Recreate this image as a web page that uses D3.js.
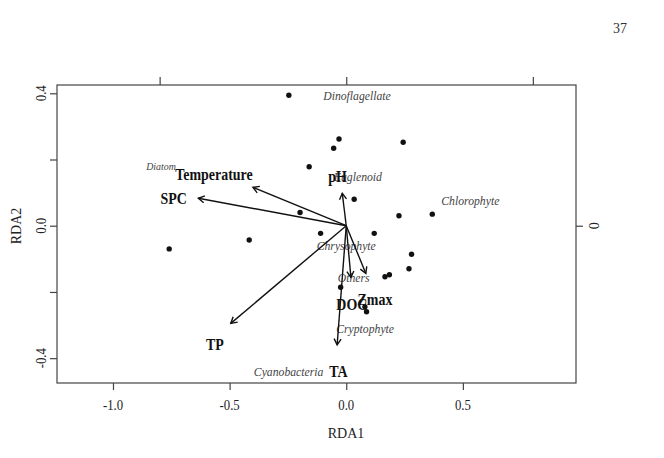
<!DOCTYPE html>
<html>
<head>
<meta charset="utf-8">
<script src="https://cdn.jsdelivr.net/npm/d3@7"></script>
<style>
  body { margin: 0; background: #fff; }
  svg text { font-family: "Liberation Serif", "DejaVu Serif", serif; }
</style>
</head>
<body>
<div id="chart"></div>
<script>

// site scores (RDA1, RDA2)
var siteX = [-0.246, -0.031, -0.054, 0.244, -0.159, 0.034, -0.198, 0.226, 0.369, -0.110,
  0.120, -0.759, -0.416, 0.280, 0.269, 0.166, 0.185, -0.024, 0.080, 0.087]
var siteY = [0.394, 0.262, 0.234, 0.252, 0.178, 0.080, 0.040, 0.030, 0.035, -0.023,
  -0.023, -0.070, -0.043, -0.086, -0.130, -0.154, -0.148, -0.186, -0.245, -0.260]

// environmental vectors: arrow tips and where the labels sit
var envNames = ["Temperature", "SPC", "pH", "TP", "DOC", "Zmax", "TA"]
var envX = [-0.400, -0.634, -0.017, -0.495, 0.020, 0.084, -0.039]
var envY = [0.116, 0.083, 0.098, -0.295, -0.156, -0.144, -0.360]
var envLabelX = [-0.567, -0.740, -0.037, -0.563, 0.024, 0.123, -0.034]
var envLabelY = [0.150, 0.076, 0.143, -0.363, -0.243, -0.227, -0.444]

// species scores (text only)
var sppNames = ["Dinoflagellate", "Diatom", "Euglenoid", "Chlorophyte", "Chrysophyte",
  "Others", "Cryptophyte", "Cyanobacteria"]
var sppX = [0.046, -0.794, 0.050, 0.532, 0.000, 0.032, 0.081, -0.247]
var sppY = [0.390, 0.177, 0.143, 0.073, -0.063, -0.161, -0.315, -0.446]

var xTicks = [-1.0, -0.5, 0.0, 0.5]
var yTicks = [-0.4, -0.2, 0.0, 0.2, 0.4]
var yLabels = [-0.4, 0.0, 0.4]
var topTicks = [-1, 0, 1]
var rightTicks = [-1, 0, 1]


var W = 664, H = 458
var pL = 57, pR = 576, pT = 85, pB = 383

var svg = d3.select("#chart").append("svg")
  .attr("width", W)
  .attr("height", H)

var x = d3.scaleLinear().domain([-1.24, 0.985]).range([pL, pR])
var y = d3.scaleLinear().domain([0.425, -0.475]).range([pT, pB])
// species axes (top / right) use a stretched scale
var x2 = d3.scaleLinear().domain([-1.24 / 0.8, 0.985 / 0.8]).range([pL, pR])
var y2 = d3.scaleLinear().domain([0.425 / 0.8, -0.475 / 0.8]).range([pT, pB])

var axisColor = "#444"

// box
svg.append("rect")
  .attr("x", pL).attr("y", pT)
  .attr("width", pR - pL).attr("height", pB - pT)
  .attr("fill", "none")
  .attr("stroke", axisColor)
  .attr("stroke-width", 1.2)

var styleAxis = function (g) {
  g.select(".domain").remove()
  g.selectAll(".tick line").attr("stroke", axisColor).attr("stroke-width", 1.2)
  g.selectAll(".tick text").remove()
}

svg.append("g")
  .attr("transform", `translate(0,${pB})`)
  .call(d3.axisBottom(x).tickValues(xTicks).tickSize(7))
  .call(styleAxis)

svg.append("g")
  .attr("transform", `translate(${pL},0)`)
  .call(d3.axisLeft(y).tickValues(yTicks).tickSize(7))
  .call(styleAxis)

svg.append("g")
  .attr("transform", `translate(0,${pT})`)
  .call(d3.axisTop(x2).tickValues(topTicks).tickSize(8))
  .call(styleAxis)

svg.append("g")
  .attr("transform", `translate(${pR},0)`)
  .call(d3.axisRight(y2).tickValues(rightTicks.filter(d => y2(d) > pT && y2(d) < pB)).tickSize(7))
  .call(styleAxis)

// tick labels (the scan is a bit narrow, so squeeze the text horizontally)
svg.append("g").selectAll("text")
  .data(xTicks)
  .join("text")
  .attr("transform", d => `translate(${x(d)},407) scale(0.85,1)`)
  .attr("text-anchor", "middle")
  .attr("dominant-baseline", "middle")
  .attr("font-size", 15)
  .attr("fill", "#222")
  .text(d => d.toFixed(1))

svg.append("g").selectAll("text")
  .data(yLabels)
  .join("text")
  .attr("transform", d => `translate(43,${y(d)}) rotate(-90) scale(0.85,1)`)
  .attr("text-anchor", "middle")
  .attr("dominant-baseline", "middle")
  .attr("font-size", 15)
  .attr("fill", "#222")
  .text(d => d.toFixed(1))

svg.append("text")
  .attr("transform", `translate(592,${y2(0)}) rotate(90)`)
  .attr("text-anchor", "middle")
  .attr("dominant-baseline", "middle")
  .attr("font-size", 14)
  .attr("fill", "#222")
  .text("0")

// axis titles
svg.append("text")
  .attr("x", 346).attr("y", 435)
  .attr("text-anchor", "middle")
  .attr("dominant-baseline", "middle")
  .attr("font-size", 14)
  .attr("fill", "#222")
  .text("RDA1")

svg.append("text")
  .attr("transform", `translate(18,226) rotate(-90)`)
  .attr("text-anchor", "middle")
  .attr("dominant-baseline", "middle")
  .attr("font-size", 14)
  .attr("fill", "#222")
  .text("RDA2")

// page number
svg.append("text")
  .attr("x", 620).attr("y", 30)
  .attr("text-anchor", "middle")
  .attr("dominant-baseline", "middle")
  .attr("font-family", "Liberation Sans, Arial, sans-serif")
  .attr("font-size", 14)
  .attr("fill", "#333")
  .text("37")

// species labels
svg.append("g").selectAll("text")
  .data(sppNames)
  .join("text")
  .attr("transform", (d, i) => `translate(${x(sppX[i])},${y(sppY[i])}) scale(0.9,1)`)
  .attr("text-anchor", "middle")
  .attr("dominant-baseline", "middle")
  .attr("font-style", "italic")
  .attr("font-size", d => d === "Diatom" ? 11 : 13)
  .attr("fill", "#444")
  .text(d => d)

// sites
svg.append("g").selectAll("circle")
  .data(siteX)
  .join("circle")
  .attr("cx", d => x(d))
  .attr("cy", (d, i) => y(siteY[i]))
  .attr("r", 2.7)
  .attr("fill", "#111")

// arrows
var arrowHead = function (x0, y0, x1, y1) {
  var a = Math.atan2(y1 - y0, x1 - x0)
  var len = 7, spread = Math.PI / 6
  var p1 = [x1 - len * Math.cos(a - spread), y1 - len * Math.sin(a - spread)]
  var p2 = [x1 - len * Math.cos(a + spread), y1 - len * Math.sin(a + spread)]
  return `M${p1[0]},${p1[1]}L${x1},${y1}L${p2[0]},${p2[1]}`
}

var arrows = svg.append("g")
  .attr("stroke", "#111")
  .attr("stroke-width", 1.4)
  .attr("fill", "none")

arrows.selectAll("line")
  .data(envX)
  .join("line")
  .attr("x1", x(0)).attr("y1", y(0))
  .attr("x2", d => x(d))
  .attr("y2", (d, i) => y(envY[i]))

arrows.selectAll("path")
  .data(envX)
  .join("path")
  .attr("d", (d, i) => arrowHead(x(0), y(0), x(d), y(envY[i])))

// vector labels
svg.append("g").selectAll("text")
  .data(envNames)
  .join("text")
  .attr("transform", (d, i) => `translate(${x(envLabelX[i])},${y(envLabelY[i])}) scale(0.82,1)`)
  .attr("text-anchor", "middle")
  .attr("dominant-baseline", "middle")
  .attr("font-weight", "bold")
  .attr("font-family", d => d === "TA" ? "Liberation Sans, Arial, sans-serif" : null)
  .attr("font-size", 17)
  .attr("fill", "#111")
  .text(d => d)

</script>
</body>
</html>
